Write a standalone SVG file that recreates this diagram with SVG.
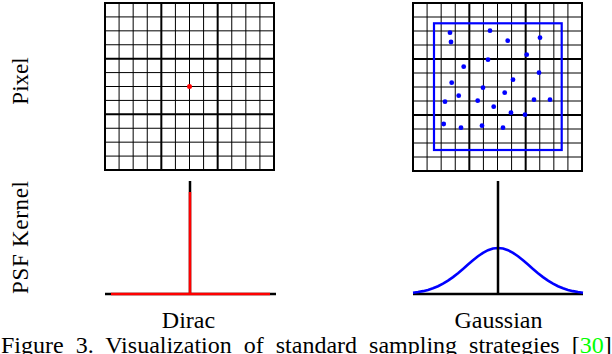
<svg xmlns="http://www.w3.org/2000/svg" width="612" height="354" viewBox="0 0 612 354">
<style>
.minor{stroke:#000;stroke-width:1;fill:none}
.major{stroke:#000;stroke-width:2;fill:none}
.lbl{font-family:"Liberation Serif","Times New Roman",serif;font-size:23px;fill:#000}
.cap{font-family:"Liberation Serif","Times New Roman",serif;font-size:24px;fill:#000}
.dot{fill:#0000ff}
.axis{stroke:#000;stroke-width:2.5;fill:none}
</style>
<rect width="612" height="354" fill="#fff"/>
<g id="label-pixel"><text class="lbl" transform="translate(28,81) rotate(-90)" text-anchor="middle">Pixel</text></g>
<g id="label-psf"><text class="lbl" transform="translate(28,237.5) rotate(-90)" text-anchor="middle" textLength="113">PSF Kernel</text></g>
<g id="grid-dirac">
<path class="minor" d="M119.08 3V170M133.17 3V170M147.25 3V170M175.42 3V170M189.5 3V170M203.58 3V170M231.75 3V170M245.83 3V170M259.92 3V170"/>
<path class="minor" stroke="#444" d="M105 16.92H274M105 30.83H274M105 44.75H274M105 72.58H274M105 86.5H274M105 100.42H274M105 128.25H274M105 142.17H274M105 156.08H274"/>
<path class="major" d="M161.33 3V170M217.67 3V170M105 58.67H274M105 114.33H274"/>
<rect class="major" x="105" y="3" width="169" height="167"/>
<circle cx="189.5" cy="86.5" r="2.5" fill="#ff0000"/>
</g>
<g id="grid-gaussian">
<path class="minor" d="M427.08 3V171M441.17 3V171M455.25 3V171M483.42 3V171M497.5 3V171M511.58 3V171M539.75 3V171M553.83 3V171M567.92 3V171"/>
<path class="minor" d="M413 17H582M413 31H582M413 45H582M413 73H582M413 87H582M413 101H582M413 129H582M413 143H582M413 157H582"/>
<path class="major" d="M469.33 3V171M525.67 3V171M413 59H582M413 115H582"/>
<rect class="major" x="413" y="3" width="169" height="168"/>
<rect x="434" y="23.3" width="127.7" height="126.7" fill="none" stroke="#0000ff" stroke-width="2.2"/>
<g class="dot">
<circle cx="450" cy="32.7" r="2.4"/><circle cx="451" cy="42" r="2.4"/><circle cx="490" cy="30.7" r="2.4"/>
<circle cx="507.7" cy="40.7" r="2.4"/><circle cx="540" cy="37.7" r="2.4"/><circle cx="526.7" cy="54.7" r="2.4"/>
<circle cx="488" cy="59.7" r="2.4"/><circle cx="463.7" cy="66.7" r="2.4"/><circle cx="539" cy="72.7" r="2.4"/>
<circle cx="513" cy="79.7" r="2.4"/><circle cx="451.7" cy="82.7" r="2.4"/><circle cx="483" cy="87.7" r="2.4"/>
<circle cx="458.7" cy="95.7" r="2.4"/><circle cx="504.7" cy="92.7" r="2.4"/><circle cx="445" cy="101.7" r="2.4"/>
<circle cx="477.7" cy="100.7" r="2.4"/><circle cx="534" cy="99.7" r="2.4"/><circle cx="550" cy="99.7" r="2.4"/>
<circle cx="493.7" cy="106.7" r="2.4"/><circle cx="511" cy="112.7" r="2.4"/><circle cx="525" cy="114.7" r="2.4"/>
<circle cx="443.7" cy="124" r="2.4"/><circle cx="461" cy="127.7" r="2.4"/><circle cx="482" cy="125.7" r="2.4"/>
<circle cx="503" cy="127.7" r="2.4"/>
</g>
</g>
<g id="psf-dirac">
<path class="axis" d="M105 294H276M190 181V294"/>
<path d="M111 294H270M190 192V294" stroke="#ff0000" stroke-width="2.5" fill="none"/>
</g>
<g id="psf-gaussian">
<path class="axis" d="M413 294H583"/>
<path fill="none" stroke="#0000ff" stroke-width="2.6" d="M413 292.71L418 292.06L423 291.15L428 289.92L433 288.3L438 286.24L443 283.69L448 280.64L453 277.1L458 273.15L463 268.9L468 264.52L473 260.23L478 256.25L483 252.84L488 250.22L493 248.57L498 248L503 248.57L508 250.22L513 252.84L518 256.25L523 260.23L528 264.52L533 268.9L538 273.15L543 277.1L548 280.64L553 283.69L558 286.24L563 288.3L568 289.92L573 291.15L578 292.06L583 292.71"/>
<path class="axis" d="M498 181V294"/>
</g>
<g id="name-dirac"><text class="cap" x="188.5" y="328" text-anchor="middle" font-size="23.5">Dirac</text></g>
<g id="name-gaussian"><text class="cap" x="498.5" y="328" text-anchor="middle" font-size="23.5">Gaussian</text></g>
<g id="caption"><text class="cap" x="1" y="353" word-spacing="6">Figure 3. Visualization of standard sampling strategies [<tspan fill="#00ff00">30</tspan>].</text></g>
</svg>
